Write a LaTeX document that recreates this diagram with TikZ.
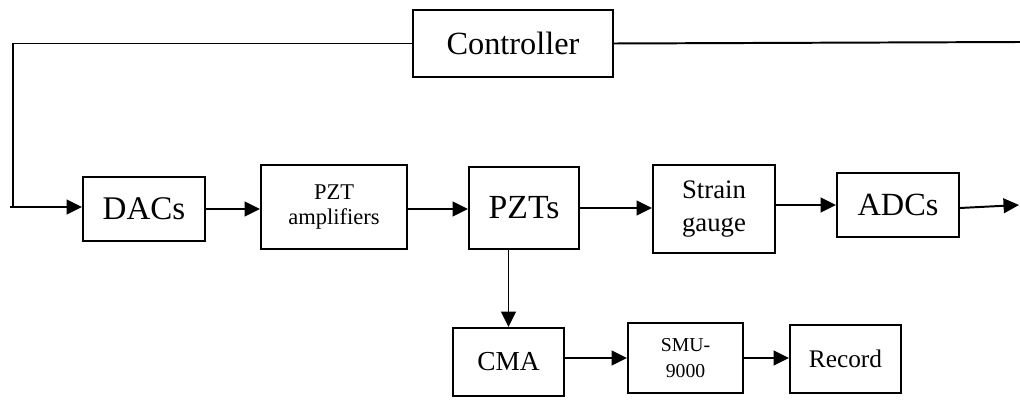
\documentclass[tikz,border=0pt]{standalone}
\usepackage{fontspec}
\setmainfont{Liberation Serif}
\usetikzlibrary{arrows.meta}
\usetikzlibrary{positioning}

\tikzset{
  blk/.style={draw,rectangle,line width=1.4pt,inner sep=0pt,align=center},
  arr/.style={line width=1.4pt,-{Triangle[length=11pt,width=10.5pt]}},
  wire/.style={line width=1.4pt}
}

\begin{document}
\begin{tikzpicture}[x=0.025cm,y=-0.025cm]
  \useasboundingbox (0,0) rectangle (1020,400);
  \node[blk,minimum width=200*0.025cm,minimum height=67*0.025cm,font=\fontsize{23}{26}\selectfont] (ctrl) at (513,43.5) {Controller};
  \node[blk,minimum width=122*0.025cm,minimum height=64*0.025cm,font=\fontsize{23.5}{26}\selectfont] (dac) at (144,209) {DACs};
  \node[blk,minimum width=146*0.025cm,minimum height=84*0.025cm,font=\fontsize{16}{18}\selectfont] (amp) at (334,207) {PZT\\amplifiers};
  \node[blk,minimum width=110*0.025cm,minimum height=82*0.025cm,font=\fontsize{24}{26}\selectfont] (pzt) at (524,208) {PZTs};
  \node[blk,minimum width=122*0.025cm,minimum height=88*0.025cm,font=\fontsize{19}{24}\selectfont] (sg) at (714,209) {Strain\\gauge};
  \node[blk,minimum width=122*0.025cm,minimum height=64*0.025cm,font=\fontsize{23}{26}\selectfont] (adc) at (898,205) {ADCs};
  \node[blk,minimum width=111*0.025cm,minimum height=68*0.025cm,font=\fontsize{19.5}{22}\selectfont] (cma) at (508.5,362) {CMA};
  \node[blk,minimum width=115*0.025cm,minimum height=70*0.025cm,font=\fontsize{14}{18}\selectfont] (smu) at (685.5,358) {SMU-\\9000};
  \node[blk,minimum width=111*0.025cm,minimum height=68*0.025cm,font=\fontsize{18}{22}\selectfont] (rec) at (845.5,359) {Record};
  \coordinate (fbl) at (13,207);
  \coordinate (inp) at (10,207);
  \coordinate (fbr) at (1020,42);
  \coordinate (out) at (1019,205);
  \draw[wire] (ctrl.west) -| (fbl);
  \draw[wire] (ctrl.east) -- (fbr);
  \draw[arr] (inp) -- (inp -| dac.west);
  \draw[arr] (dac) -- (dac -| amp.west);
  \draw[arr] (dac -| amp.east) -- (dac -| pzt.west);
  \draw[arr] (pzt) -- (pzt -| sg.west);
  \draw[arr] (adc -| sg.east) -- (adc.west);
  \draw[arr] (adc.east) ++(0,3) -- (out);
  \draw[arr] (cma |- pzt.south) -- (cma.north);
  \draw[arr] (smu -| cma.east) -- (smu.west);
  \draw[arr] (smu) -- (smu -| rec.west);
\end{tikzpicture}
\end{document}
